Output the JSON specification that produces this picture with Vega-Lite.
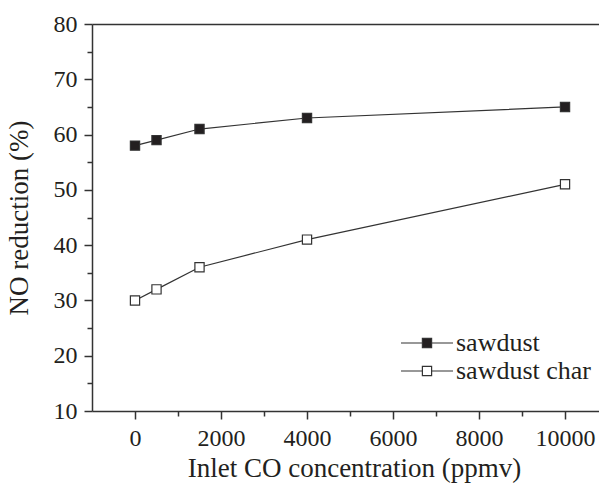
{
  "$schema": "https://vega.github.io/schema/vega-lite/v6.json",
  "width": 507,
  "height": 387,
  "autosize": {"type": "none"},
  "padding": {"left": 92, "top": 24, "right": 0, "bottom": 73},
  "background": "white",
  "config": {
    "view": {"stroke": null},
    "font": "Liberation Serif",
    "axis": {
      "domainColor": "#333333",
      "domainWidth": 1.5,
      "tickColor": "#333333",
      "tickWidth": 1.5,
      "labelColor": "#231f20",
      "titleColor": "#231f20",
      "titleFontWeight": "normal",
      "grid": false
    }
  },
  "data": {
    "values": [
      {"co": 0, "nr": 58, "series": "sawdust"},
      {"co": 500, "nr": 59, "series": "sawdust"},
      {"co": 1500, "nr": 61, "series": "sawdust"},
      {"co": 4000, "nr": 63, "series": "sawdust"},
      {"co": 10000, "nr": 65, "series": "sawdust"},
      {"co": 0, "nr": 30, "series": "sawdust char"},
      {"co": 500, "nr": 32, "series": "sawdust char"},
      {"co": 1500, "nr": 36, "series": "sawdust char"},
      {"co": 4000, "nr": 41, "series": "sawdust char"},
      {"co": 10000, "nr": 51, "series": "sawdust char"}
    ]
  },
  "layer": [
    {
      "mark": {"type": "line", "color": "#333333", "strokeWidth": 1.2},
      "encoding": {
        "x": {
          "field": "co",
          "type": "quantitative",
          "scale": {"domain": [-1000, 10790], "nice": false, "zero": false},
          "axis": {
            "orient": "bottom",
            "values": [0, 2000, 4000, 6000, 8000, 10000],
            "format": "d",
            "tickSize": 8,
            "labelFont": "Liberation Serif",
            "labelFontSize": 24,
            "labelPadding": 7,
            "title": "Inlet CO concentration (ppmv)",
            "titleFont": "Liberation Serif",
            "titleFontSize": 27,
            "titlePadding": 5,
            "titleX": 262
          }
        },
        "y": {
          "field": "nr",
          "type": "quantitative",
          "scale": {"domain": [10, 80], "nice": false, "zero": false},
          "axis": {
            "orient": "left",
            "values": [10, 20, 30, 40, 50, 60, 70, 80],
            "format": "d",
            "tickSize": 8,
            "labelFont": "Liberation Serif",
            "labelFontSize": 24,
            "labelPadding": 7,
            "title": "NO reduction (%)",
            "titleFont": "Liberation Serif",
            "titleFontSize": 27,
            "titlePadding": 20
          }
        },
        "detail": {"field": "series", "type": "nominal"}
      }
    },
    {
      "mark": {"type": "point", "shape": "square", "filled": true, "size": 85, "stroke": "#333333", "strokeWidth": 1.2, "opacity": 1},
      "encoding": {
        "x": {
          "field": "co",
          "type": "quantitative",
          "axis": {
            "orient": "bottom",
            "values": [1000, 3000, 5000, 7000, 9000],
            "tickSize": 5,
            "labels": false,
            "domain": false,
            "title": null
          }
        },
        "y": {
          "field": "nr",
          "type": "quantitative",
          "axis": {
            "orient": "left",
            "values": [15, 25, 35, 45, 55, 65, 75],
            "tickSize": 5,
            "labels": false,
            "domain": false,
            "title": null
          }
        },
        "fill": {
          "field": "series",
          "type": "nominal",
          "scale": {"domain": ["sawdust", "sawdust char"], "range": ["#231f20", "#ffffff"]},
          "legend": {
            "title": null,
            "orient": "none",
            "legendX": 322,
            "legendY": 306,
            "symbolType": "M-5.65,0H-1M1,0H5.65M-1,-1H1V1H-1Z",
            "symbolSize": 85,
            "symbolStrokeColor": "#333333",
            "symbolStrokeWidth": 1.2,
            "labelFont": "Liberation Serif",
            "labelFontSize": 26,
            "labelColor": "#231f20",
            "labelOffset": 16,
            "rowPadding": 2,
            "padding": 0
          }
        }
      }
    },
    {
      "mark": {"type": "line", "opacity": 0},
      "encoding": {
        "x": {
          "field": "co",
          "type": "quantitative",
          "axis": {"orient": "top", "ticks": false, "labels": false, "domain": true, "title": null}
        },
        "y": {"field": "nr", "type": "quantitative", "axis": null},
        "detail": {"field": "series", "type": "nominal"}
      }
    }
  ],
  "resolve": {"axis": {"x": "independent", "y": "independent"}}
}
